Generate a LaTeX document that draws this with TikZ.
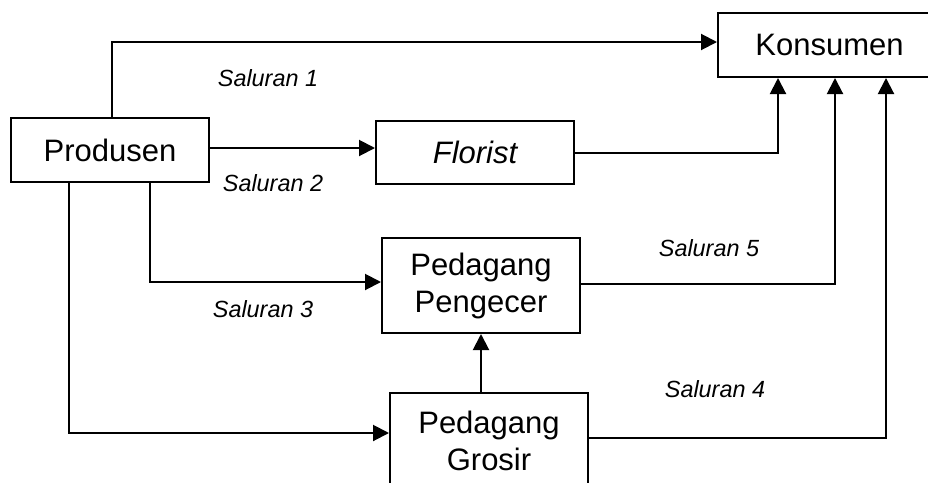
\documentclass[tikz,border=0pt]{standalone}
\usepackage{fontspec}
\setmainfont{Liberation Sans}
\usetikzlibrary{arrows.meta,calc}
\tikzset{
  box/.style={draw, line width=2pt, inner sep=0pt, align=center,
    font=\fontsize{31}{37}\selectfont},
  lbl/.style={inner sep=0pt, font=\fontsize{23.4}{28}\selectfont\itshape},
  conn/.style={line width=2pt},
  arr/.style={conn, -{Triangle[length=16pt,width=16pt]}},
}
\begin{document}
\begin{tikzpicture}[x=1pt,y=-1pt]
\useasboundingbox (0,0) rectangle (928,482);
\clip (0,0) rectangle (928,482);
\node[box, minimum width=223pt, minimum height=64pt] (kons) at (829.5,45) {Konsumen};
\node[box, minimum width=198pt, minimum height=64pt] (prod) at (110,150) {Produsen};
\node[box, minimum width=198pt, minimum height=63pt] (flor) at (475,152.5) {\itshape Florist};
\node[box, minimum width=198pt, minimum height=95pt] (peng) at (481,285.5) {Pedagang\\Pengecer};
\node[box, minimum width=198pt, minimum height=100pt] (gros) at (489,443) {};
\node[inner sep=0pt, align=center, font=\fontsize{31}{37}\selectfont] (grostxt) at (489,441) {Pedagang\\Grosir};

\draw[arr] (prod.north -| 112,0) |- (kons.west |- 0,42);
\draw[arr] (prod.east |- 0,148) -- (flor.west |- 0,148);
\draw[arr] (flor.east) -| (kons.south -| 778,0);
\draw[arr] (prod.south -| 150,0) |- (peng.west |- 0,282);
\draw[arr] (prod.south -| 69,0) |- (gros.west |- 0,433);
\draw[arr] (gros.north -| 481,0) -- (peng.south);
\draw[arr] (peng.east |- 0,284) -| (kons.south -| 835,0);
\draw[arr] (gros.east |- 0,438) -| (kons.south -| 886,0);

\node[lbl] (s1) at (268,78) {Saluran 1};
\node[lbl] (s2) at (273,183) {Saluran 2};
\node[lbl] (s3) at (263,309) {Saluran 3};
\node[lbl] (s5) at (709,248) {Saluran 5};
\node[lbl] (s4) at (715,389) {Saluran 4};
\end{tikzpicture}
\end{document}
